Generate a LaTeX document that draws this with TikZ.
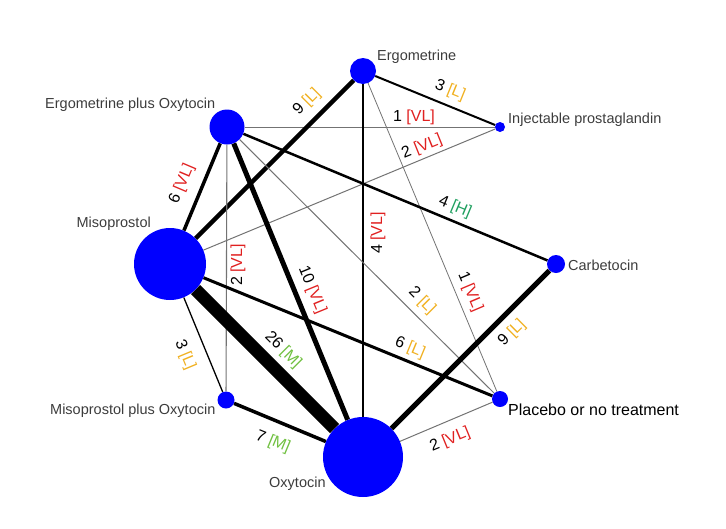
\documentclass[tikz,border=0pt]{standalone}
\usepackage{fontspec}
\setmainfont{Liberation Sans}
\usetikzlibrary{backgrounds}
\definecolor{cVL}{RGB}{224,32,32}
\definecolor{cL}{RGB}{240,176,32}
\definecolor{cM}{RGB}{112,192,64}
\definecolor{cH}{RGB}{32,160,96}
\definecolor{ntext}{RGB}{60,60,60}
\begin{document}
\begin{tikzpicture}[x=1pt,y=-1pt,
  trt/.style={circle,fill={rgb,255:red,0;green,0;blue,255},draw=none,inner sep=0pt,minimum size=#1},
  nlab/.style={inner sep=0pt,text=ntext,font=\fontsize{14.5}{15}\selectfont},
  elab/.style={inner sep=0pt,font=\fontsize{16}{16}\selectfont},
  link/.style={line width=#1,draw=black},
  thinlink/.style={line width=#1,draw=black!55}]
\useasboundingbox (0,0) rectangle (726,528);
% treatments
\node[trt=26pt] (E) at (363,71) {};
\node[trt=10pt] (I) at (500,127) {};
\node[trt=35pt] (EO) at (227,127) {};
\node[trt=72pt] (M) at (170,264) {};
\node[trt=18pt] (C) at (556,264) {};
\node[trt=17pt] (MO) at (226,400) {};
\node[trt=80pt] (O) at (363,457) {};
\node[trt=16pt] (P) at (500,399) {};
% treatment names
\node[nlab,anchor=west] (tE) at (377,57) {Ergometrine};
\node[nlab,anchor=west] (tI) at (508,120) {Injectable prostaglandin};
\node[nlab,anchor=west] (tEO) at (45,105) {Ergometrine plus Oxytocin};
\node[nlab,anchor=east] (tM) at (151,224) {Misoprostol};
\node[nlab,anchor=west] (tC) at (568,265) {Carbetocin};
\node[nlab,anchor=west] (tMO) at (50,411) {Misoprostol plus Oxytocin};
\node[nlab,anchor=west] (tO) at (269,484) {Oxytocin};
\node[inner sep=0pt,anchor=west,text=black,font=\fontsize{16}{16}\selectfont] (tP) at (508,410) {Placebo or no treatment};
% connectors
\begin{pgfonlayer}{background}
\draw[link=2pt] (E) -- (I);
\draw[thinlink=0.8pt] (EO) -- (I);
\draw[thinlink=1pt] (M) -- (I);
\draw[link=4.5pt] (E) -- (M);
\draw[link=2pt] (E) -- (O);
\draw[thinlink=0.8pt] (E) -- (P);
\draw[link=3.5pt] (EO) -- (M);
\draw[link=5pt] (EO) -- (O);
\draw[link=2.5pt] (EO) -- (C);
\draw[thinlink=1pt] (EO) -- (P);
\draw[thinlink=1.1pt] (EO) -- (MO);
\draw[link=13pt] (M) -- (O);
\draw[link=1.3pt] (M) -- (MO);
\draw[link=3pt] (M) -- (P);
\draw[link=3.5pt] (MO) -- (O);
\draw[link=5pt] (C) -- (O);
\draw[thinlink=1pt] (O) -- (P);
\end{pgfonlayer}
% connector labels
\node[elab,rotate=-22] (l1) at (450,90) {3 \textcolor{cL}{[L]}};
\node[elab] (l2) at (414,117) {1 \textcolor{cVL}{[VL]}};
\node[elab,rotate=22] (l3) at (422,147) {2 \textcolor{cVL}{[VL]}};
\node[elab,rotate=45] (l4) at (307,102) {9 \textcolor{cL}{[L]}};
\node[elab,rotate=-22.7] (l5) at (455,207) {4 \textcolor{cH}{[H]}};
\node[elab,rotate=90] (l6) at (378,233) {4 \textcolor{cVL}{[VL]}};
\node[elab,rotate=-67] (l7) at (470,292) {1 \textcolor{cVL}{[VL]}};
\node[elab,rotate=-45] (l8) at (422,301) {2 \textcolor{cL}{[L]}};
\node[elab,rotate=67] (l9) at (182,184) {6 \textcolor{cVL}{[VL]}};
\node[elab,rotate=-67.6] (l10) at (312,290) {10 \textcolor{cVL}{[VL]}};
\node[elab,rotate=90] (l11) at (238,265) {2 \textcolor{cVL}{[VL]}};
\node[elab,rotate=-45] (l12) at (283,350) {26 \textcolor{cM}{[M]}};
\node[elab,rotate=-67.4] (l13) at (185,355) {3 \textcolor{cL}{[L]}};
\node[elab,rotate=-22.4] (l14) at (410,348) {6 \textcolor{cL}{[L]}};
\node[elab,rotate=44.7] (l15) at (512,333) {9 \textcolor{cL}{[L]}};
\node[elab,rotate=-22.5] (l16) at (273,442) {7 \textcolor{cM}{[M]}};
\node[elab,rotate=22.4] (l17) at (450,440) {2 \textcolor{cVL}{[VL]}};
\end{tikzpicture}
\end{document}
